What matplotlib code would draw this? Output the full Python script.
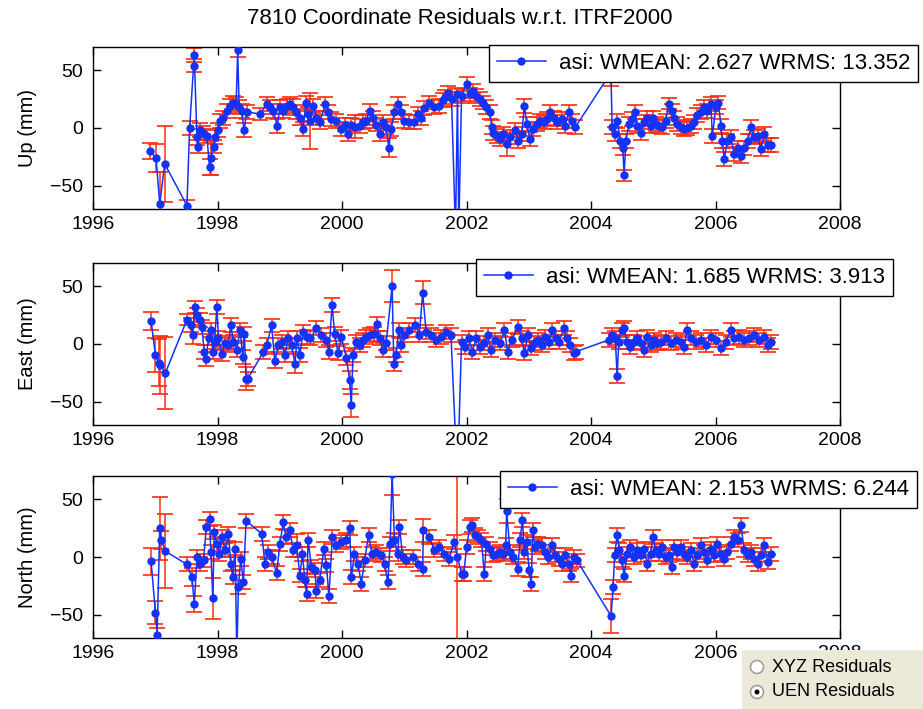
import matplotlib
matplotlib.use("Agg")
import matplotlib.pyplot as plt
from matplotlib.patches import Circle

plt.rcParams['font.family'] = ['Liberation Sans', 'DejaVu Sans']

# ---------------- data ----------------
title = "7810 Coordinate Residuals w.r.t. ITRF2000"
xticks = [1996, 1998, 2000, 2002, 2004, 2006, 2008]
yticks = [-50, 0, 50]

up_t = [1996.923, 1997.013, 1997.072, 1997.152, 1997.509, 1997.552, 1997.616, 1997.627, 1997.669, 1997.685,
        1997.723, 1997.765, 1997.829, 1997.872, 1997.893, 1997.936, 1997.963, 1998.000, 1998.043, 1998.096,
        1998.149, 1998.203, 1998.256, 1998.299, 1998.325, 1998.347, 1998.389, 1998.427, 1998.469, 1998.683,
        1998.789, 1998.843, 1998.896, 1998.960, 1999.003, 1999.056, 1999.109, 1999.163, 1999.216, 1999.269,
        1999.323, 1999.376, 1999.419, 1999.456, 1999.493, 1999.536, 1999.589, 1999.643, 1999.733, 1999.776,
        1999.829, 1999.909, 1999.989, 2000.043, 2000.096, 2000.149, 2000.203, 2000.283, 2000.336, 2000.389,
        2000.443, 2000.496, 2000.549, 2000.603, 2000.656, 2000.709, 2000.752, 2000.789, 2000.843, 2000.896,
        2000.949, 2001.003, 2001.083, 2001.163, 2001.216, 2001.269, 2001.323, 2001.403, 2001.483, 2001.563,
        2001.616, 2001.650, 2001.696, 2001.760, 2001.823, 2001.855, 2001.876, 2001.920, 2002.000, 2002.050,
        2002.110, 2002.160, 2002.215, 2002.270, 2002.320, 2002.376, 2002.403, 2002.430, 2002.484, 2002.540,
        2002.590, 2002.645, 2002.700, 2002.780, 2002.830, 2002.887, 2002.930, 2002.968, 2003.020, 2003.075,
        2003.130, 2003.180, 2003.237, 2003.290, 2003.344, 2003.400, 2003.450, 2003.530, 2003.586, 2003.640,
        2003.690, 2003.747, 2004.320, 2004.340, 2004.380, 2004.420, 2004.473, 2004.510, 2004.532, 2004.560,
        2004.610, 2004.660, 2004.700, 2004.740, 2004.796, 2004.850, 2004.900, 2004.957, 2004.995, 2005.040,
        2005.090, 2005.145, 2005.200, 2005.250, 2005.296, 2005.333, 2005.387, 2005.440, 2005.495, 2005.548,
        2005.600, 2005.656, 2005.710, 2005.763, 2005.817, 2005.870, 2005.925, 2005.950, 2006.005, 2006.048,
        2006.086, 2006.110, 2006.140, 2006.190, 2006.247, 2006.300, 2006.355, 2006.410, 2006.460, 2006.516,
        2006.570, 2006.624, 2006.677, 2006.730, 2006.785, 2006.840, 2006.890]
up_v = [-20, -26, -66, -31, -67, 0, 54, 63, -8, -16,
        -2, -4, -7, -34, -26, -16, -8, -2, 6, 9,
        15, 19, 22, 21, 67, 18, 15, -2, 14, 12,
        21, 18, 15, 2, 18, 15, 19, 21, 18, 14,
        9, -1, 22, 12, 6, 19, 9, 5, 21, 14,
        8, 6, -1, 3, -5, 3, 1, 2, 5, 6,
        15, 9, 3, -5, 5, 1, -17, -1, 14, 21,
        14, 6, 5, 5, 12, 9, 17, 22, 18, 19,
        24, 26.6, 30, 25, -90, 29, -90, 28, 38, 29,
        32, 28, 25, 22, 18, 14, 1, -4, -7, -9.5,
        -5, -14, -8, -2, -11, -5, 19, 3.5, -9.5, -1,
        3.5, 6, 5, 8, 14, 9, 5, 8, 2, 14,
        6, 0.6, 48, 0.6, -5, 6, -11, -17, -41, -11,
        3.5, 8, 14, 2, -4, 5, 9, 2, 9, 3.5,
        2, 0.6, 6, 21, 15, 9, 3.5, 0.6, -1, 0,
        2, 5, 11, 14, 18, 15, 21, -7, 18, 22,
        2, -11, -27, -11, -8, -22.5, -17, -24, -17, -11,
        0.6, -8, -7, -18, -5, -15, -14.5]
up_e = [7, 12, 28, 33, 5, 6, 6, 6, 7, 6,
        6, 6, 6, 7, 15, 6, 6, 6, 6, 6,
        6, 6, 6, 6, 6, 6, 6, 6, 6, 5,
        6, 6, 6, 6, 6, 6, 6, 6, 7, 6,
        6, 6, 6, 6, 24, 6, 6, 6, 6, 6,
        6, 6, 6, 6, 6, 6, 10, 6, 6, 6,
        6, 6, 6, 6, 6, 6, 8, 6, 6, 6,
        6, 6, 6, 6, 6, 6, 6, 6, 6, 6,
        6, 6, 6, 6, 6, 6, 6, 6, 6, 6,
        6, 6, 6, 6, 6, 6, 6, 6, 6, 6,
        6, 10, 6, 6, 6, 6, 6, 6, 6, 6,
        6, 6, 6, 6, 6, 6, 6, 6, 6, 6,
        6, 6, 12, 6, 6, 6, 6, 6, 5, 6,
        6, 6, 6, 6, 6, 6, 6, 6, 6, 6,
        6, 6, 6, 5, 6, 6, 6, 6, 6, 6,
        6, 6, 6, 6, 6, 6, 6, 6, 6, 6,
        6, 6, 6, 6, 6, 6, 6, 6, 6, 6,
        6, 6, 6, 6, 6, 6, 6]

east_t = [1996.933, 1997.003, 1997.056, 1997.083, 1997.163, 1997.509, 1997.573, 1997.600, 1997.632, 1997.670,
          1997.712, 1997.749, 1997.787, 1997.813, 1997.856, 1997.893, 1997.925, 1997.952, 1997.990, 1998.016,
          1998.070, 1998.123, 1998.176, 1998.213, 1998.256, 1998.310, 1998.363, 1998.405, 1998.432, 1998.459,
          1998.485, 1998.736, 1998.790, 1998.870, 1998.920, 1998.976, 1999.030, 1999.083, 1999.136, 1999.190,
          1999.243, 1999.280, 1999.323, 1999.376, 1999.430, 1999.493, 1999.590, 1999.670, 1999.750, 1999.790,
          1999.840, 1999.883, 1999.936, 1999.990, 2000.070, 2000.123, 2000.149, 2000.176, 2000.230, 2000.283,
          2000.336, 2000.389, 2000.443, 2000.507, 2000.560, 2000.603, 2000.656, 2000.709, 2000.805, 2000.832,
          2000.870, 2000.910, 2000.950, 2001.003, 2001.083, 2001.180, 2001.243, 2001.296, 2001.350, 2001.430,
          2001.510, 2001.590, 2001.670, 2001.750, 2001.823, 2001.876, 2001.920, 2001.973, 2002.040, 2002.090,
          2002.160, 2002.215, 2002.285, 2002.340, 2002.390, 2002.457, 2002.540, 2002.610, 2002.660, 2002.726,
          2002.833, 2002.887, 2002.930, 2002.984, 2003.040, 2003.090, 2003.145, 2003.210, 2003.260, 2003.330,
          2003.380, 2003.435, 2003.490, 2003.560, 2003.610, 2003.667, 2003.720, 2003.758, 2004.285, 2004.340,
          2004.390, 2004.420, 2004.446, 2004.490, 2004.527, 2004.580, 2004.634, 2004.688, 2004.742, 2004.796,
          2004.850, 2004.903, 2004.957, 2005.010, 2005.065, 2005.118, 2005.200, 2005.280, 2005.360, 2005.440,
          2005.495, 2005.548, 2005.600, 2005.680, 2005.763, 2005.844, 2005.925, 2006.005, 2006.086, 2006.167,
          2006.247, 2006.300, 2006.380, 2006.460, 2006.543, 2006.624, 2006.700, 2006.785, 2006.840, 2006.890]
east_v = [20, -9.5, -16, -18, -25, 21, 16.5, 8, 32, 25,
          21, 15, -7, -13, 5, 12, -7, 2, 32, 5,
          -9, 0.6, -1, 16.5, 2, -5, 12, -11, 9, -30,
          -30, -7, -1, 16, -15, -1, 2, -9.5, 5, -1,
          -17, 5, -9.5, 10.7, 6, 5, 13.6, 8, 3.5, -7,
          34, 9, -8, 6, -12, -31, -53, -9.5, 2, -1,
          3.5, 6, 8, 9, 17, 5, -5, 0.6, 50, -17,
          -9.5, 12, -1, 8, 12, 16.5, 8, 44.5, 10.7, 8,
          3.5, 6, 10.7, 8, -80, -78, 2, -2.3, 5, -6.6,
          5, -2.3, 0.6, 8, -5, 3.5, 0.6, 12, -6.6, 3.5,
          15, 5, -8, 8, -3.8, 0.6, 3.5, -1, 6, 2,
          12, 5, 2, 13.6, 5, -1, -8, -6.6, 3.5, 8,
          5, -28, 2, 12, 13.6, 2, -2.3, 2, 5, 0.6,
          -5, 6, -1, 3.5, 0.6, 2, 5, 0.6, 3.5, 2,
          -2.3, 12, 5, 2, 3.5, -1, 6, 3.5, -3.8, 2,
          12, 5, 6, 3.5, 5, 8, 3.5, 6, -1, 2]
east_e = [8, 15, 20, 25, 31, 5, 6, 8, 5, 6,
          6, 6, 6, 6, 6, 6, 6, 6, 6, 6,
          6, 6, 6, 6, 6, 6, 6, 6, 6, 10,
          6, 6, 6, 6, 6, 6, 6, 6, 6, 6,
          8, 6, 6, 6, 6, 6, 6, 6, 6, 6,
          6, 6, 6, 6, 6, 8, 10, 6, 6, 6,
          6, 6, 6, 6, 6, 6, 6, 6, 14, 6,
          6, 6, 6, 6, 6, 6, 6, 10, 6, 6,
          6, 6, 6, 6, 6, 6, 6, 6, 6, 6,
          6, 6, 6, 6, 6, 6, 6, 6, 6, 6,
          6, 6, 6, 6, 6, 6, 6, 6, 6, 6,
          6, 6, 6, 6, 6, 6, 6, 6, 6, 6,
          6, 6, 6, 6, 6, 6, 6, 6, 6, 6,
          6, 6, 6, 6, 6, 6, 6, 6, 6, 6,
          6, 6, 6, 6, 6, 6, 6, 6, 6, 6,
          6, 6, 6, 6, 6, 6, 6, 6, 6, 6]

north_t = [1996.933, 1997.003, 1997.030, 1997.072, 1997.100, 1997.163, 1997.509, 1997.590, 1997.627, 1997.670,
           1997.720, 1997.776, 1997.820, 1997.872, 1997.893, 1997.925, 1997.947, 1997.990, 1998.030, 1998.070,
           1998.123, 1998.176, 1998.213, 1998.245, 1998.283, 1998.310, 1998.336, 1998.373, 1998.416, 1998.459,
           1998.710, 1998.763, 1998.816, 1998.870, 1998.950, 1999.003, 1999.056, 1999.100, 1999.163, 1999.216,
           1999.270, 1999.323, 1999.365, 1999.403, 1999.430, 1999.456, 1999.510, 1999.563, 1999.590, 1999.643,
           1999.707, 1999.750, 1999.790, 1999.845, 1999.909, 1999.990, 2000.060, 2000.123, 2000.150, 2000.200,
           2000.256, 2000.310, 2000.363, 2000.427, 2000.480, 2000.550, 2000.630, 2000.683, 2000.736, 2000.773,
           2000.805, 2000.843, 2000.896, 2000.923, 2000.976, 2001.030, 2001.136, 2001.216, 2001.296, 2001.307,
           2001.403, 2001.483, 2001.563, 2001.643, 2001.723, 2001.800, 2001.855, 2001.920, 2001.957, 2002.000,
           2002.054, 2002.090, 2002.134, 2002.190, 2002.240, 2002.285, 2002.320, 2002.376, 2002.430, 2002.484,
           2002.538, 2002.590, 2002.630, 2002.645, 2002.700, 2002.753, 2002.823, 2002.860, 2002.898, 2002.930,
           2002.968, 2003.005, 2003.040, 2003.065, 2003.100, 2003.156, 2003.210, 2003.263, 2003.317, 2003.380,
           2003.425, 2003.478, 2003.530, 2003.586, 2003.640, 2003.677, 2003.720, 2003.774, 2004.323, 2004.355,
           2004.380, 2004.420, 2004.457, 2004.500, 2004.532, 2004.580, 2004.634, 2004.688, 2004.742, 2004.796,
           2004.850, 2004.903, 2004.957, 2004.995, 2005.040, 2005.090, 2005.145, 2005.200, 2005.250, 2005.296,
           2005.333, 2005.387, 2005.440, 2005.495, 2005.548, 2005.600, 2005.656, 2005.710, 2005.763, 2005.817,
           2005.870, 2005.925, 2005.980, 2006.030, 2006.086, 2006.140, 2006.190, 2006.247, 2006.300, 2006.355,
           2006.410, 2006.460, 2006.516, 2006.570, 2006.624, 2006.677, 2006.730, 2006.785, 2006.840, 2006.890]
north_v = [-3.8, -48, -67, 24.7, 14.5, 5, -6.4, -17.4, -40.7, 0,
           -5.8, -3, 26, 32.6, 4.4, -35.8, 21.8, 11.6, 2.9, 17.4,
           5.8, 20, -5.8, -17.4, 7.3, -85, -26, -1.5, -21.8, 31.4,
           20, -5.8, 4.4, 0, -14, 11.6, 30, 17.4, 23, 5.8,
           10, -16, 2.9, -20, -32, 14.5, -8.7, -11.6, -29, -20,
           7.3, -7.3, -34, 17.4, 10, 13, 15, 25, -17.4, 2.9,
           -5.8, -23, -3, 19, 2.9, 4.4, 1.5, -5.8, -21.8, 11.6,
           71.8, 14.5, 2.9, 26, 0, -3, 0, -5.8, -10, 23,
           17.4, 5.8, 8.7, 2.9, -1.5, 13, 0, -14.5, -14.5, 8.7,
           26, 27.6, 19, 17.4, 14.5, -14.5, 11.6, 7.3, 1.5, 2.9,
           4.4, 2.9, 10, 39.8, 4.4, 0, -10, 14.5, 32, 4.4,
           13, -11.6, -23, 23, 8.7, 11.6, 10, 4.4, 0, 10,
           1.5, -1.5, -5.8, 1.5, -5.8, -16, 0, -3, -51, -26,
           1.5, 19, 5.8, -3, -16, 2.9, 8.7, 0, 5.8, 1.5,
           7.3, -5.8, 2.9, 17.4, 5.8, 2.9, 8.7, 0, 1.5, -8.7,
           8.7, 4.4, 8.7, 2.9, 0, 5.8, -5.8, 1.5, 10, 4.4,
           -3, 7.3, 1.5, 11.6, 2.9, -1.5, 4.4, 11.6, 17.4, 14.5,
           27.6, 5.8, 1.5, 4.4, -1.5, -5.8, 1.5, 10, -4.4, 2.9]
north_e = [12, 10, 6, 27, 8, 32, 6, 8, 7, 6,
           6, 6, 6, 6, 6, 18, 6, 6, 6, 6,
           6, 6, 6, 6, 6, 6, 6, 6, 6, 6,
           6, 6, 6, 6, 6, 6, 6, 6, 6, 6,
           10, 6, 6, 6, 6, 6, 6, 6, 6, 6,
           6, 6, 6, 6, 6, 6, 6, 6, 6, 6,
           6, 6, 6, 6, 6, 6, 6, 6, 6, 6,
           18, 6, 6, 6, 6, 6, 6, 6, 6, 10,
           6, 6, 6, 6, 6, 6, 200, 6, 6, 6,
           6, 6, 6, 6, 6, 6, 6, 6, 6, 6,
           6, 6, 6, 10, 6, 6, 6, 6, 6, 6,
           6, 6, 6, 6, 6, 6, 6, 6, 6, 6,
           6, 6, 6, 6, 6, 6, 6, 6, 15, 6,
           6, 6, 6, 6, 6, 6, 6, 6, 6, 6,
           6, 6, 6, 6, 6, 6, 6, 6, 6, 6,
           6, 6, 6, 6, 6, 6, 6, 6, 6, 6,
           6, 6, 6, 6, 6, 6, 6, 6, 6, 6,
           6, 6, 6, 6, 6, 6, 6, 6, 6, 6]

panel_labels = ["Up (mm)", "East (mm)", "North (mm)"]
legend_labels = ["asi: WMEAN: 2.627 WRMS: 13.352",
                 "asi: WMEAN: 1.685 WRMS: 3.913",
                 "asi: WMEAN: 2.153 WRMS: 6.244"]
radio_labels = ["XYZ Residuals", "UEN Residuals"]

# ---------------- figure ----------------
W, H = 923, 709
fig = plt.figure(figsize=(W / 100, H / 100), dpi=100, facecolor='white')

BLUE = '#1432ff'
RED = '#ff2d0f'

# axes pixel boxes: (left, top, right, bottom)
boxes = [(93, 47, 840, 209), (93, 263, 840, 425), (93, 476, 840, 638)]
legend_anchor = [(918, 45), (893, 259), (917, 471)]
series = [(up_t, up_v, up_e), (east_t, east_v, east_e), (north_t, north_v, north_e)]

for i, (box, (t, v, e)) in enumerate(zip(boxes, series)):
    l, tp, r, b = box
    ax = fig.add_axes([l / W, 1 - b / H, (r - l) / W, (b - tp) / H])
    ax.errorbar(t, v, yerr=e, fmt='none', ecolor=RED, elinewidth=1.1,
                capsize=6, capthick=1.2, zorder=2)
    ax.plot(t, v, '-', color=BLUE, lw=1.1, marker='o', ms=6, mew=0,
            label=legend_labels[i], zorder=3)
    ax.set_xlim(1996, 2008)
    ax.set_ylim(-70, 70)
    ax.set_xticks(xticks)
    ax.set_yticks(yticks)
    ax.tick_params(direction='in', length=6, width=1, top=True, right=True,
                   labelsize=14, colors='black')
    ax.tick_params(axis='x', pad=5)
    ax.tick_params(axis='y', pad=7)
    for s in ax.spines.values():
        s.set_linewidth(1.0)
        s.set_color('black')
    ax.set_ylabel(panel_labels[i], fontsize=14.5)
    ax.yaxis.set_label_coords(-0.075, 0.5)
    lx, ly = legend_anchor[i]
    leg = ax.legend(loc='upper right', bbox_to_anchor=(lx / W, 1 - ly / H),
                    bbox_transform=fig.transFigure, fontsize=16, frameon=True,
                    fancybox=False, framealpha=1, edgecolor='black',
                    borderaxespad=0, handlelength=2.2, borderpad=0.35,
                    handletextpad=0.6)
    leg.get_frame().set_linewidth(1.0)
    leg.set_zorder(10)

fig.text(460 / W, 1 - 19 / H, title, ha='center', va='center', fontsize=16)

# radio-button panel
rx0, ry0, rx1, ry1 = 742, 650, 923, 709
pax = fig.add_axes([rx0 / W, 1 - ry1 / H, (rx1 - rx0) / W, (ry1 - ry0) / H])
pax.set_xlim(rx0, rx1)
pax.set_ylim(ry1, ry0)
pax.set_facecolor('#ece9d8')
pax.set_xticks([])
pax.set_yticks([])
for s in pax.spines.values():
    s.set_visible(False)
pax.set_zorder(20)
for j, lab in enumerate(radio_labels):
    cy = 667 + j * 25
    pax.add_patch(Circle((757, cy), 6.5, facecolor='white', edgecolor='#a0a0a0', lw=1.2))
    if j == 1:
        pax.add_patch(Circle((757, cy), 2.5, facecolor='black', edgecolor='none'))
    pax.text(772, cy, lab, fontsize=13, va='center', ha='left', color='black')

fig.savefig('out.png', dpi=100, facecolor='white')
